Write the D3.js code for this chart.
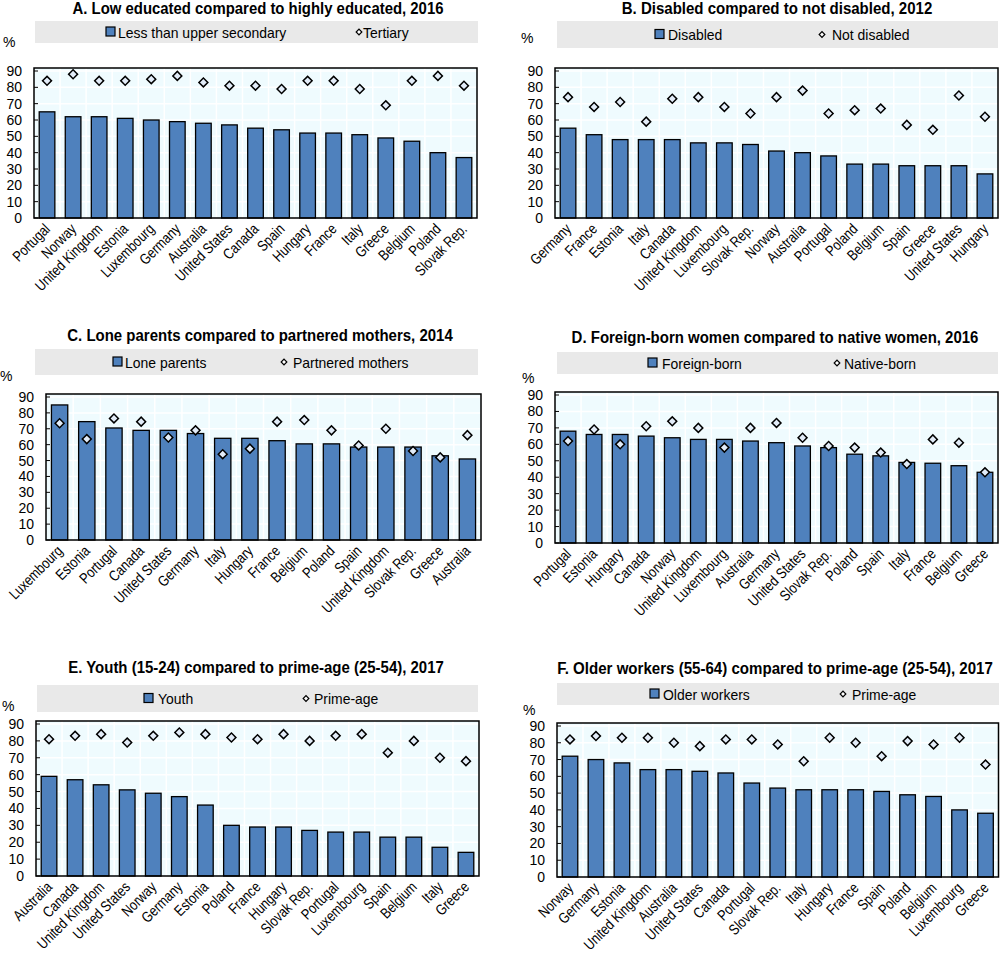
<!DOCTYPE html>
<html><head><meta charset="utf-8">
<script src="https://cdn.jsdelivr.net/npm/d3@7"></script>
<style>
html,body{margin:0;padding:0;background:#fff;}
svg{display:block;}
</style>
</head><body>
<svg id="chart" width="1000" height="962"></svg>
<script>
// ---------- DATA ----------
const catsA = ["Portugal","Norway","United Kingdom","Estonia","Luxembourg","Germany","Australia","United States","Canada","Spain","Hungary","France","Italy","Greece","Belgium","Poland","Slovak Rep."];
const lessUpperSecondary = [65,62,62,61,60,59,58,57,55,54,52,52,51,49,47,40,37];
const tertiary = [84,88,84,84,85,87,83,81,81,79,84,84,79,69,84,87,81];

const catsB = ["Germany","France","Estonia","Italy","Canada","United Kingdom","Luxembourg","Slovak Rep.","Norway","Australia","Portugal","Poland","Belgium","Spain","Greece","United States","Hungary"];
const disabled = [55,51,48,48,48,46,46,45,41,40,38,33,33,32,32,32,27];
const notDisabled = [74,68,71,59,73,74,68,64,74,78,64,66,67,57,54,75,62];

const catsC = ["Luxembourg","Estonia","Portugal","Canada","United States","Germany","Italy","Hungary","France","Belgium","Poland","Spain","United Kingdom","Slovak Rep.","Greece","Australia"];
const loneParents = [85,74.5,70.5,69,69,67,64,64,62.5,60.5,60.5,58.5,58.5,58.5,53,51];
const partneredMothers = [73.5,63.5,76.5,74.5,64.5,69,54,57.5,74.5,75.5,69,59.5,70,56,52,66];

const catsD = ["Portugal","Estonia","Hungary","Canada","Norway","United Kingdom","Luxembourg","Australia","Germany","United States","Slovak Rep.","Poland","Spain","Italy","France","Belgium","Greece"];
const foreignBorn = [68,66,66,65,64,63,63,62,61,59,58,54,53,49,48.5,47,43];
const nativeBorn = [62,69,60,71,74,70,58,70,73,64,59,58,55,48,63,61,43];

const catsE = ["Australia","Canada","United Kingdom","United States","Norway","Germany","Estonia","Poland","France","Hungary","Slovak Rep.","Portugal","Luxembourg","Spain","Belgium","Italy","Greece"];
const youth = [59,57,54,51,49,47,42,30,29,29,27,26,26,23,23,17,14];
const primeAgeE = [81,83,84,79,83,85,84,82,81,84,80,83,84,73,80,70,68];

const catsF = ["Norway","Germany","Estonia","United Kingdom","Australia","United States","Canada","Portugal","Slovak Rep.","Italy","Hungary","France","Spain","Poland","Belgium","Luxembourg","Greece"];
const olderWorkers = [72,70,68,64,64,63,62,56,53,52,52,52,51,49,48,40,38];
const primeAgeF = [82,84,83,83,80,78,82,82,79,69,83,80,72,81,79,83,67];

const yTicks = [0,10,20,30,40,50,60,70,80,90];

// ---------- LAYOUT / STYLE ----------
const FONT = "'Liberation Sans Narrow','Arial Narrow','Liberation Sans',Arial,sans-serif";
const BAR = "#4f81bd";
const BG = "#effbfe";
const DIA_FILL = "#e2ecf8";

const panels = [
  {title:"A. Low educated compared to highly educated, 2016", tx:258, ty:14, tw:371,
   cats:catsA, bars:lessUpperSecondary, dots:tertiary, barName:"Less than upper secondary", dotName:"Tertiary",
   frame:{l:34,r:477,t:68,b:218}, leg:{x:35,w:443,y:21,h:22,sq:106,st:118,dm:359,dt:363}, pct:{x:3,y:47}},
  {title:"B. Disabled compared to not disabled, 2012", tx:777, ty:14, tw:311,
   cats:catsB, bars:disabled, dots:notDisabled, barName:"Disabled", dotName:"Not disabled",
   frame:{l:555,r:998,t:68,b:218}, leg:{x:557,w:441,y:21,h:27,sq:655,st:668,dm:822,dt:832}, pct:{x:521,y:43}},
  {title:"C. Lone parents compared to partnered mothers, 2014", tx:260, ty:341, tw:386,
   cats:catsC, bars:loneParents, dots:partneredMothers, barName:"Lone parents", dotName:"Partnered mothers",
   frame:{l:46,r:481,t:394,b:540}, leg:{x:35,w:443,y:349,h:26,sq:113,st:125,dm:284,dt:293}, pct:{x:0,y:381}},
  {title:"D. Foreign-born women compared to native women, 2016", tx:775, ty:343, tw:407,
   cats:catsD, bars:foreignBorn, dots:nativeBorn, barName:"Foreign-born", dotName:"Native-born",
   frame:{l:555,r:998,t:392,b:543}, leg:{x:557,w:441,y:352,h:22,sq:648,st:662,dm:837,dt:844}, pct:{x:522,y:383}},
  {title:"E. Youth (15-24) compared to prime-age (25-54), 2017", tx:256, ty:673, tw:376,
   cats:catsE, bars:youth, dots:primeAgeE, barName:"Youth", dotName:"Prime-age",
   frame:{l:36,r:479,t:721,b:876}, leg:{x:37,w:441,y:685,h:27,sq:144,st:158,dm:306,dt:314}, pct:{x:2,y:711}},
  {title:"F. Older workers (55-64) compared to prime-age (25-54), 2017", tx:775, ty:674, tw:436,
   cats:catsF, bars:olderWorkers, dots:primeAgeF, barName:"Older workers", dotName:"Prime-age",
   frame:{l:557,r:998.5,t:723,b:877}, leg:{x:557,w:442,y:683,h:22,sq:650,st:663,dm:843,dt:852}, pct:{x:523,y:715}}
];

// condense a text element horizontally by factor k
function condense(sel, k) {
  sel.each(function() {
    const w = this.getComputedTextLength();
    d3.select(this).attr("textLength", w * k).attr("lengthAdjust", "spacingAndGlyphs");
  });
}

const svg = d3.select("#chart");
const diamond = d3.symbol().type(d3.symbolSquare).size(40);
const diamondSmall = d3.symbol().type(d3.symbolSquare).size(16);

panels.forEach(p => {
  const g = svg.append("g");
  const f = p.frame;
  const x = d3.scaleBand().domain(p.cats).range([f.l, f.r]).paddingInner(0.4).paddingOuter(0.2);
  const y = d3.scaleLinear().domain([0, 90]).range([f.b, f.t + 3]);

  // title (scaled horizontally to the reference width)
  const t = g.append("text").attr("x", 0).attr("y", 0).attr("text-anchor","middle")
    .style("font-family", FONT).style("font-weight","bold").style("font-size","16.5px").text(p.title);
  const nat = t.node().getComputedTextLength();
  t.attr("transform", `translate(${p.tx},${p.ty}) scale(${p.tw / nat},1)`);

  // legend
  const L = p.leg;
  g.append("rect").attr("x", L.x).attr("y", L.y).attr("width", L.w).attr("height", L.h).attr("fill", "#e9e9e9");
  const cy = L.y + L.h/2;
  g.append("rect").attr("x", L.sq).attr("y", cy - 5).attr("width", 9).attr("height", 9)
    .attr("fill", BAR).attr("stroke", "#000").attr("stroke-width", 1.2);
  g.append("text").attr("x", L.st).attr("y", cy + 5.5).style("font-family", FONT).style("font-size","15px").text(p.barName)
    .call(condense, 0.93);
  g.append("path").attr("d", diamondSmall()).attr("transform", `translate(${L.dm},${cy}) rotate(45)`)
    .attr("fill", "#fff").attr("stroke", "#000").attr("stroke-width", 1.2);
  g.append("text").attr("x", L.dt).attr("y", cy + 5.5).style("font-family", FONT).style("font-size","15px").text(p.dotName)
    .call(condense, 0.93);

  // "%" label
  g.append("text").attr("x", p.pct.x).attr("y", p.pct.y).style("font-family","'Liberation Sans',Arial,sans-serif")
    .style("font-size","14px").text("%");

  // plot background
  g.append("rect").attr("x", f.l).attr("y", f.t).attr("width", f.r - f.l).attr("height", f.b - f.t).attr("fill", BG);
  // gridlines
  g.selectAll(".hg").data(yTicks.slice(1)).enter().append("line")
    .attr("x1", f.l).attr("x2", f.r).attr("y1", d => y(d)).attr("y2", d => y(d))
    .attr("stroke", "#fff").attr("stroke-width", 1.5);
  g.selectAll(".vg").data(p.cats.slice(1)).enter().append("line")
    .attr("x1", d => x(d) - x.step()*x.paddingInner()/2).attr("x2", d => x(d) - x.step()*x.paddingInner()/2)
    .attr("y1", f.t).attr("y2", f.b).attr("stroke", "#fff").attr("stroke-width", 1.5);

  // bars
  g.selectAll(".bar").data(p.cats).enter().append("rect")
    .attr("x", d => x(d)).attr("width", x.bandwidth())
    .attr("y", (d,i) => y(p.bars[i])).attr("height", (d,i) => y(0) - y(p.bars[i]))
    .attr("fill", BAR).attr("stroke", "#000").attr("stroke-width", 1.3);

  // diamonds
  g.selectAll(".dot").data(p.cats).enter().append("path")
    .attr("d", diamond())
    .attr("transform", (d,i) => `translate(${x(d) + x.bandwidth()/2},${y(p.dots[i])}) rotate(45)`)
    .attr("fill", DIA_FILL).attr("stroke", "#000").attr("stroke-width", 1.5);

  // frame
  g.append("rect").attr("x", f.l).attr("y", f.t).attr("width", f.r - f.l).attr("height", f.b - f.t)
    .attr("fill", "none").attr("stroke", "#000").attr("stroke-width", 1.5);

  // y axis
  const ya = d3.axisLeft(y).tickValues(yTicks).tickSize(0).tickPadding(12);
  const yg = g.append("g").attr("transform", `translate(${f.l},0)`).call(ya);
  yg.select(".domain").remove();
  yg.selectAll("text").style("font-family","'Liberation Sans',Arial,sans-serif").style("font-size","14px").attr("fill","#000");
  g.selectAll(".ytk").data(yTicks).enter().append("line")
    .attr("x1", f.l).attr("x2", f.l + 4).attr("y1", d => y(d)).attr("y2", d => y(d)).attr("stroke","#000").attr("stroke-width",1);

  // x axis labels
  const xa = d3.axisBottom(x).tickSize(0).tickPadding(0);
  const xg = g.append("g").attr("transform", `translate(0,${f.b})`).call(xa);
  xg.select(".domain").remove();
  xg.selectAll("text")
    .attr("text-anchor", "end")
    .attr("dy", 0)
    .attr("transform", "translate(4,12) rotate(-45)")
    .style("font-family", FONT).style("font-size","15px").attr("fill","#000")
    .call(condense, 0.82);
});
</script>
</body></html>
